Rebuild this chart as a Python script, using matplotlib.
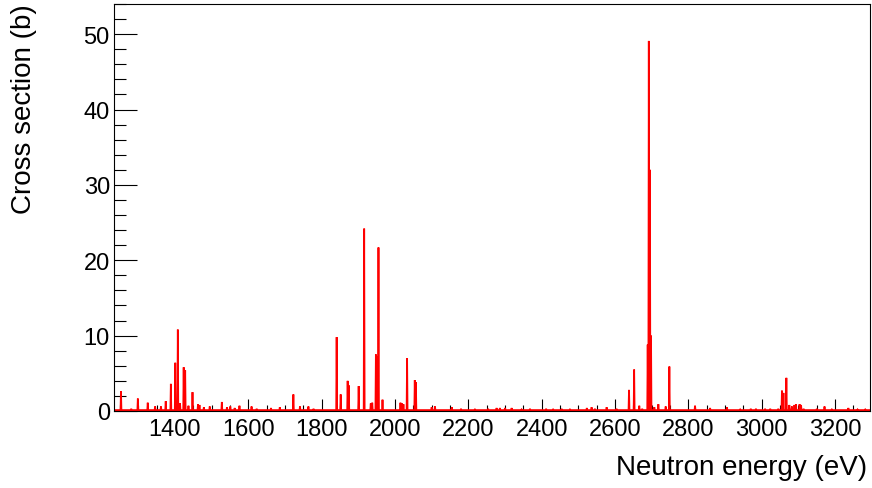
import numpy as np
import matplotlib
matplotlib.use("Agg")
import matplotlib.pyplot as plt
from matplotlib.ticker import MultipleLocator

plt.rcParams['font.family'] = ['Liberation Sans', 'DejaVu Sans']

# Resonance peaks: energy (eV) and peak cross section (b)
peak_energy = [
    1253, 1281, 1299, 1326, 1346, 1362, 1375, 1389, 1401, 1408, 1414, 1424, 1428,
    1437, 1448, 1463, 1467, 1479, 1495, 1528, 1542, 1551, 1563, 1576, 1609, 1623,
    1662, 1686, 1723, 1741, 1764, 1778, 1841, 1852, 1871, 1874, 1901, 1916, 1934,
    1938, 1948, 1951, 1955, 1966, 2015, 2019, 2023, 2033, 2054, 2057, 2100, 2109,
    2155, 2180, 2218, 2254, 2277, 2286, 2300, 2318, 2345, 2368, 2412, 2431, 2455,
    2477, 2523, 2536, 2545, 2577, 2604, 2638, 2652, 2666, 2674, 2689, 2692, 2695,
    2698, 2707, 2718, 2738, 2748, 2818, 2859, 2905, 2941, 2970, 2984, 3009, 3023,
    3045, 3055, 3059, 3067, 3075, 3082, 3089, 3093, 3103, 3107, 3114, 3150, 3171,
    3191, 3236, 3261, 3282,
]
peak_height = [
    2.6, 0.3, 1.65, 1.1, 0.6, 0.6, 1.3, 3.6, 6.4, 10.8, 1.0, 5.8, 5.4,
    0.7, 2.5, 0.9, 0.8, 0.5, 0.6, 1.2, 0.5, 0.6, 0.4, 0.7, 0.6, 0.3,
    0.4, 0.5, 2.2, 0.6, 0.6, 0.3, 9.8, 2.2, 4.0, 3.4, 3.3, 24.2, 1.0,
    1.1, 7.5, 7.2, 21.7, 1.5, 1.1, 1.0, 0.9, 7.0, 4.1, 3.8, 0.5, 0.6,
    0.5, 0.3, 0.2, 0.3, 0.4, 0.4, 0.4, 0.4, 0.2, 0.3, 0.3, 0.2, 0.2,
    0.2, 0.4, 0.5, 0.3, 0.5, 0.3, 2.8, 5.5, 0.7, 0.3, 8.8, 49.1, 32.0,
    10.0, 0.5, 0.9, 0.6, 5.9, 0.7, 0.4, 0.5, 0.2, 0.3, 0.3, 0.3, 0.3,
    0.3, 2.7, 2.4, 4.4, 0.8, 0.6, 0.8, 0.9, 0.9, 0.8, 0.3, 0.3, 0.6,
    0.2, 0.4, 0.2, 0.2,
]
background = 0.12
e_min, e_max = 1234, 3295
y_max = 54

# Assemble the cross-section curve as narrow spikes on a flat background
half_width = 1.2
xs = [e_min]
ys = [background]
for e, h in zip(peak_energy, peak_height):
    xs += [e - half_width, e, e + half_width]
    ys += [background, h, background]
xs.append(e_max)
ys.append(background)

fig = plt.figure(figsize=(8.72, 4.89), dpi=100)
ax = fig.add_axes([114 / 872, 1 - 412 / 489, 756 / 872, 407 / 489])

ax.plot(xs, ys, color='#ff0000', lw=1.3, solid_joinstyle='miter')

ax.set_xlim(e_min, e_max)
ax.set_ylim(0, y_max)

ax.xaxis.set_major_locator(MultipleLocator(200))
ax.xaxis.set_minor_locator(MultipleLocator(50))
ax.yaxis.set_major_locator(MultipleLocator(10))
ax.yaxis.set_minor_locator(MultipleLocator(2))

ax.tick_params(axis='x', which='major', direction='in', length=8.8, width=0.8,
               labelsize=17, pad=5)
ax.tick_params(axis='x', which='minor', direction='in', length=4.4, width=0.8)
ax.tick_params(axis='y', which='major', direction='in', length=16.5, width=0.8,
               labelsize=17, pad=3)
ax.tick_params(axis='y', which='minor', direction='in', length=8.3, width=0.8)
ax.tick_params(top=False, right=False, which='both')

for s in ax.spines.values():
    s.set_linewidth(0.8)

fig.text(867 / 872, 1 - 468 / 489, 'Neutron energy (eV)', ha='right', va='center',
         fontsize=20)
fig.text(24 / 872, 1 - 4 / 489, 'Cross section (b)', ha='center', va='top',
         rotation=90, fontsize=20)

fig.savefig('out.png', dpi=100)
